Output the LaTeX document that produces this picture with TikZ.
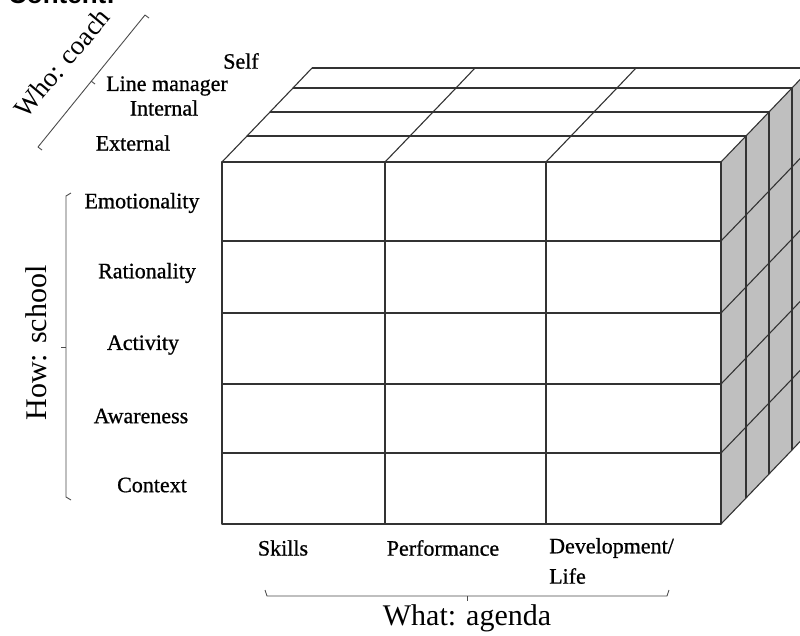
\documentclass[tikz,border=0pt]{standalone}
\usepackage{fontspec}
\setmainfont{Liberation Serif}
\newfontfamily\labfont{Liberation Serif}[FakeBold=0.8]
\newfontfamily\sansfam{Liberation Sans}
\begin{document}
\begin{tikzpicture}[x=1pt,y=-1pt,
  gl/.style={draw=black!80, line width=1.1pt, line join=round},
  lab/.style={font=\labfont\fontsize{22}{24}\selectfont, inner sep=0pt},
  big/.style={font=\fontsize{30}{32}\selectfont, inner sep=0pt},
  brk/.style={draw=black!70, line width=0.9pt, line join=round}]
\useasboundingbox (0,0) rectangle (800,635);
\clip (0,0) rectangle (800,635);
\fill[white] (0,0) rectangle (800,635);

% partially visible heading (cut by the picture's top edge)
\node[font=\sansfam\bfseries\fontsize{26}{28}\selectfont, anchor=base west, inner sep=0pt] (content) at (8,3) {Content:};

% ---- top face ----
\foreach \dx/\dy in {0/0,25/26,48/50,71/74,90/94}
  \draw[gl] (222+\dx,162-\dy) -- (721+\dx,162-\dy);
\foreach \x in {222,385,546}
  \draw[gl] (\x,162) -- (\x+25,136) -- (\x+48,112) -- (\x+71,88) -- (\x+90,68);

% ---- side face ----
\fill[black!25] (721,162) -- (746,136) -- (769,112) -- (792,88) -- (811,68)
  -- (811,430) -- (792,450) -- (769,474) -- (746,498) -- (721,524) -- cycle;
\foreach \dx/\dy in {25/26,48/50,71/74,90/94}
  \draw[gl] (721+\dx,162-\dy) -- (721+\dx,524-\dy);
\foreach \y in {162,241,313,384,453,524}
  \draw[gl] (721,\y) -- (746,\y-26) -- (769,\y-50) -- (792,\y-74) -- (811,\y-94);

% ---- front face ----
\draw[gl,fill=white] (222,162) rectangle (721,524);
\foreach \x in {385,546} \draw[gl] (\x,162) -- (\x,524);
\foreach \y in {241,313,384,453} \draw[gl] (222,\y) -- (721,\y);

% ---- who labels ----
\node[lab] (self) at (241,61) {Self};
\node[lab] (lm) at (167,86) {Line manager};
\node[lab] (int) at (164,108) {Internal};
\node[lab] (ext) at (133,143) {External};
\node[big, font=\fontsize{27}{29}\selectfont, rotate=50] (who) at (62,63) {Who: coach};
\draw[brk] (42,150) -- (38,147) -- (145,15) -- (149,18);
\draw[brk] (91,81) -- (95,84);

% ---- how labels ----
\node[lab] (emo) at (142,203) {Emotionality};
\node[lab] (rat) at (147,273) {Rationality};
\node[lab] (act) at (143,345) {Activity};
\node[lab] (awa) at (141,416) {Awareness};
\node[lab] (ctx) at (152,485) {Context};
\node[big, rotate=90] (how) at (36,343) {How: school};
\draw[brk] (71,193) -- (66,196) -- (66,497) -- (71,500);
\draw[brk] (66,347) -- (61,347);

% ---- what labels ----
\node[lab] (ski) at (283,548) {Skills};
\node[lab] (per) at (443,548) {Performance};
\node[lab, anchor=west] (dev) at (549,548) {Development/};
\node[lab, anchor=west] (life) at (549,576) {Life};
\node[big] (what) at (467,618) {What: agenda};
\draw[brk] (265,590) -- (267,596) -- (667,596) -- (669,590);
\draw[brk] (467,596) -- (467,601);
\end{tikzpicture}
\end{document}
